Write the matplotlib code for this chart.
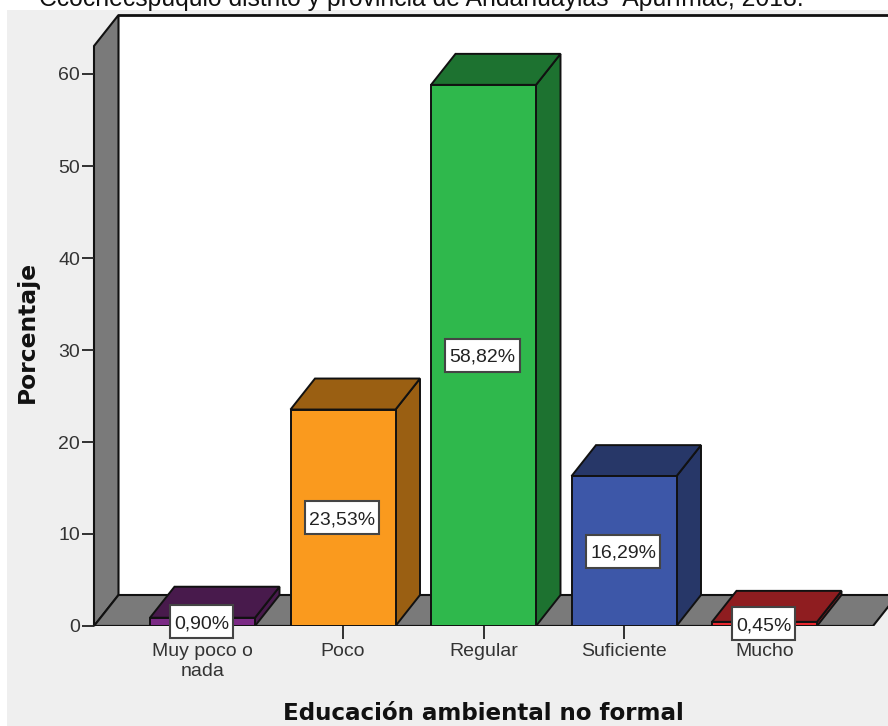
import matplotlib
matplotlib.use("Agg")
import matplotlib.pyplot as plt
from matplotlib.patches import Polygon, Rectangle

categories = ["Muy poco o\nnada", "Poco", "Regular", "Suficiente", "Mucho"]
percentages = [0.90, 23.53, 58.82, 16.29, 0.45]
value_labels = ["0,90%", "23,53%", "58,82%", "16,29%", "0,45%"]
y_ticks = [0, 10, 20, 30, 40, 50, 60]
front_colors = ["#7B2A85", "#FA9A1E", "#2FB84C", "#3D57A8", "#E8282E"]
shade_colors = ["#481A4C", "#9A5F12", "#1D7230", "#273768", "#8F1D20"]

W, H = 888, 726
plt.rcParams["font.family"] = ["Liberation Sans", "DejaVu Sans"]
fig = plt.figure(figsize=(W / 100, H / 100), dpi=100, facecolor="white")

# grey chart panel behind everything, starting just under the caption line
fig.add_artist(Rectangle((7 / W, 0), (W - 7) / W, (H - 10) / H,
                         transform=fig.transFigure, fc="#EFEFEF", ec="none", zorder=-5))
fig.text(804 / W, 1 - 6 / H, "Ccochecspuquio distrito y provincia de Andahuaylas- Apurímac, 2018.",
         ha="right", va="baseline", fontsize=17.8, color="#111111")

left, right, bottom, top = 94, 888, 626, 15
ax = fig.add_axes([left / W, 1 - bottom / H, (right - left) / W, (bottom - top) / H])
px_x, px_y = 140.5, 9.2
x0 = -(202.5 - left) / px_x
x_end = (873 - 202.5) / px_x
ax.set_xlim(x0, (right - 202.5) / px_x)
ax.set_ylim(0, (bottom - top) / px_y)
ax.patch.set_visible(False)
for s in ax.spines.values():
    s.set_visible(False)

dx, dy = 24.5 / px_x, 31 / px_y
xmax, ymax = ax.get_xlim()[1], ax.get_ylim()[1]
line = "#111111"

# back wall, side wall and floor of the 3D box
ax.add_patch(Rectangle((x0 + dx, dy), xmax - x0 - dx, ymax - dy, fc="white", ec="none", zorder=0))
ax.add_patch(Polygon([(x0, 0), (x0 + dx, dy), (x0 + dx, ymax), (x0, ymax - dy)],
                     fc="#7A7A7A", ec=line, lw=1.5, zorder=1, clip_on=False))
ax.add_patch(Polygon([(x0, 0), (x0 + dx, dy), (x_end + dx, dy), (x_end, 0)],
                     fc="#7A7A7A", ec=line, lw=1.5, zorder=1))
ax.plot([x0 + dx, xmax], [ymax, ymax], color=line, lw=2, zorder=1, clip_on=False)

# bars: front face, top and right side, each with a boxed value label
bw = 105 / px_x
renderer = fig.canvas.get_renderer()
for i, (v, fc, sc) in enumerate(zip(percentages, front_colors, shade_colors)):
    l, r = i - bw / 2, i + bw / 2
    ax.add_patch(Polygon([(r, 0), (r + dx, dy), (r + dx, v + dy), (r, v)],
                         fc=sc, ec=line, lw=1.4, zorder=3))
    ax.add_patch(Polygon([(l, v), (l + dx, v + dy), (r + dx, v + dy), (r, v)],
                         fc=sc, ec=line, lw=1.4, zorder=3))
    ax.add_patch(Rectangle((l, 0), bw, v, fc=fc, ec=line, lw=1.4, zorder=4))
    cx = i - 1 / px_x
    t = ax.text(cx, v / 2, value_labels[i], ha="center", va="center_baseline",
                fontsize=14, color="#222222", zorder=7, clip_on=False)
    bw_label = (t.get_window_extent(renderer).width + 8) / px_x
    bh_label = 33 / px_y
    ax.add_patch(Rectangle((cx - bw_label / 2, v / 2 - bh_label / 2), bw_label, bh_label,
                           fc="white", ec="#444444", lw=1.5, zorder=6, clip_on=False))

ax.plot([x0, x_end], [0, 0], color=line, lw=1.5, zorder=2)

ax.set_xticks(range(len(categories)), categories)
ax.set_yticks(y_ticks)
ax.tick_params(axis="both", length=9, width=1.3, color="#222222",
               labelcolor="#333333", labelsize=14, pad=1)
ax.tick_params(axis="x", pad=3)
for lab in ax.get_xticklabels():
    lab.set_linespacing(1.25)
    lab.set_zorder(8)
for tick in ax.xaxis.get_major_ticks() + ax.yaxis.get_major_ticks():
    tick.tick1line.set_zorder(2)

fig.text(483 / W, 1 - 714 / H, "Educación ambiental no formal", ha="center", va="center",
         fontsize=16.6, fontweight="bold", color="#111111", family="DejaVu Sans")
fig.text(27 / W, 1 - 332 / H, "Porcentaje", ha="center", va="center", rotation=90,
         fontsize=16.8, fontweight="bold", color="#111111", family="DejaVu Sans")

fig.savefig("out.png", dpi=100, facecolor="white")
